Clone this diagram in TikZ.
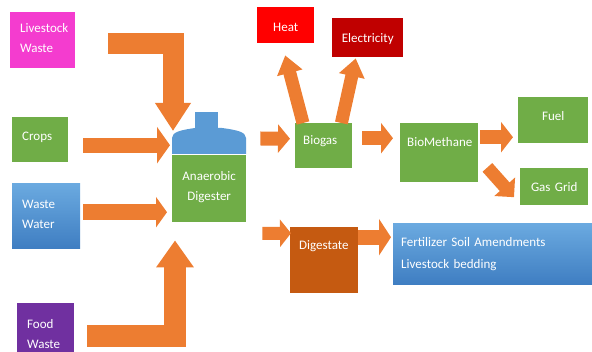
\documentclass[tikz,border=0pt]{standalone}
\usepackage{fontspec}
\setmainfont{Carlito}
\usetikzlibrary{arrows.meta}
\definecolor{flow}{HTML}{ED7D31}
\definecolor{leaf}{HTML}{70AD47}
\definecolor{sky}{HTML}{5B9BD5}
\definecolor{skylight}{HTML}{6BAAE0}
\definecolor{skydark}{HTML}{3F7EC2}
\definecolor{lwpink}{HTML}{F43CCF}
\definecolor{fwpurple}{HTML}{7030A0}
\definecolor{heatred}{HTML}{FF0000}
\definecolor{elecred}{HTML}{C00000}
\definecolor{digbrown}{HTML}{C55A11}
\begin{document}
\begin{tikzpicture}[x=1pt, y=-1pt,
    box/.style={anchor=north west, inner xsep=#1, inner ysep=0pt, text=white,
      align=left, font=\fontsize{13}{20}\selectfont},
    fat/.style n args={3}{draw=flow, line width=#1, line join=miter,
      -{Triangle[width=#2, length=#3]}},
  ]
  \useasboundingbox (0,0) rectangle (592,352);

  \node[box=10, fill=lwpink, minimum width=65pt, minimum height=56pt,
    text width=45pt, text height=20pt, text depth=36pt] (lw) at (10,12) {Livestock\\Waste};
  \node[box=10, fill=leaf, minimum width=56pt, minimum height=45pt,
    text width=36pt, text height=23pt, text depth=22pt] (crops) at (12,117) {Crops};
  \node[box=10, top color=skylight, bottom color=skydark, minimum width=68pt, minimum height=65pt,
    text width=48pt, text height=25pt, text depth=40pt] (ww) at (12,183) {Waste\\Water};
  \node[box=10, fill=fwpurple, minimum width=57pt, minimum height=62pt,
    text width=37pt, text height=25pt, text depth=37pt] (fw) at (17,303) {Food\\Waste};

  \node[box=4, fill=leaf, align=center, minimum width=74pt, minimum height=67pt,
    text width=66pt, text height=25pt, text depth=42pt] (dig) at (172,155) {Anaerobic\\Digester};
  \begin{scope}[shift={(dig.north west)}]
    \fill[sky] (0,-1) -- (0,-17) .. controls (0,-23) and (9,-25) .. (23,-27)
      -- (50,-27) .. controls (65,-25) and (74,-23) .. (74,-17) -- (74,-1) -- cycle;
    \fill[sky] (23,-43) rectangle (46,-27);
  \end{scope}

  \node[box=8, fill=leaf, minimum width=57pt, minimum height=45pt,
    text width=41pt, text height=21pt, text depth=24pt] (bio) at (295,123) {Biogas};
  \node[box=4, fill=heatred, align=center, minimum width=57pt, minimum height=36pt,
    text width=49pt, text height=24pt, text depth=12pt] (heat) at (257,7) {Heat};
  \node[box=4, fill=elecred, align=center, minimum width=71pt, minimum height=39pt,
    text width=63pt, text height=24pt, text depth=15pt] (elec) at (332,18) {Electricity};
  \node[box=7, fill=leaf, minimum width=78pt, minimum height=59pt,
    text width=64pt, text height=23pt, text depth=36pt] (bm) at (400,123) {BioMethane};
  \node[box=4, fill=leaf, align=center, minimum width=70pt, minimum height=46pt,
    text width=62pt, text height=23pt, text depth=23pt] (fuel) at (518,97) {Fuel};
  \node[box=4, fill=leaf, align=center, minimum width=68pt, minimum height=37pt,
    text width=60pt, text height=23pt, text depth=14pt] (gas) at (520,168) {Gas Grid};
  \node[box=9, fill=digbrown, minimum width=68pt, minimum height=66pt,
    text width=50pt, text height=22pt, text depth=44pt] (dige) at (290,227) {Digestate};
  \node[box=8, top color=skylight, bottom color=skydark, minimum width=199pt, minimum height=61pt,
    text width=183pt, text height=23pt, text depth=38pt] (fert) at (393,223)
    {Fertilizer Soil Amendments\\[2pt]Livestock bedding};

  \draw[fat={21pt}{34pt}{28pt}] ([shift={(33,3)}]lw.east) -| ([shift={(1,-24)}]dig.north west);
  \draw[fat={15pt}{36pt}{13pt}] ([shift={(15,5.5)}]crops.east) -- ([shift={(-2,-43.5)}]dig.west);
  \draw[fat={16pt}{30pt}{11pt}] ([shift={(3,-3.5)}]ww.east) -- ([shift={(-5,23.5)}]dig.west);
  \draw[fat={22pt}{36pt}{27pt}] ([shift={(13,2)}]fw.east) -| ([shift={(3,18)}]dig.south west);
  \draw[fat={14pt}{28pt}{12pt}] ([shift={(14,-16.5)}]dig.north east) -- ([shift={(-5,-7)}]bio.west);
  \draw[fat={13pt}{25pt}{18pt}] ([shift={(8,0)}]bio.north west) -- ([shift={(-0.5,12)}]heat.south);
  \draw[fat={13pt}{25pt}{18pt}] ([shift={(-11,0)}]bio.north east) -- ([shift={(-12,1)}]elec.south);
  \draw[fat={14pt}{30pt}{12pt}] ([shift={(10,-7.5)}]bio.east) -- ([shift={(-7,-14.5)}]bm.west);
  \draw[fat={14pt}{30pt}{12pt}] ([shift={(2,-15.5)}]bm.east) -- ([shift={(-5,17)}]fuel.west);
  \draw[fat={13pt}{27pt}{14pt}] ([shift={(9,-15)}]bm.south east) -- ([shift={(-6,10.5)}]gas.west);
  \draw[fat={13pt}{27pt}{11pt}] ([shift={(16,11)}]dig.south east) -- ([shift={(1,-27)}]dige.west);
  \draw[fat={15pt}{36pt}{12pt}] ([shift={(0,-23)}]dige.east) -- ([shift={(-2,-16.5)}]fert.west);
\end{tikzpicture}
\end{document}
